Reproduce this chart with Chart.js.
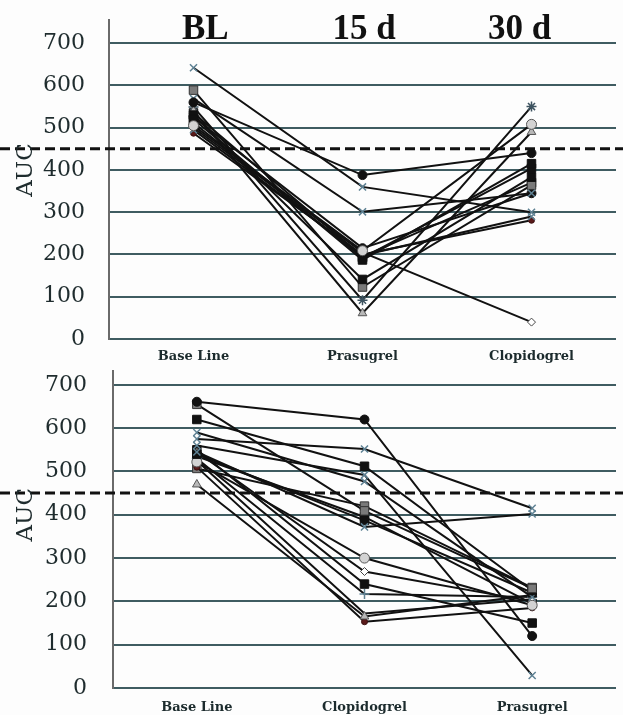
<!DOCTYPE html>
<html>
<head>
<meta charset="utf-8">
<script src="https://cdn.jsdelivr.net/npm/chart.js@4.4.1/dist/chart.umd.min.js"></script>
<style>
  html, body { margin: 0; padding: 0; background: #fdfdfd; }
  #top { position: absolute; left: 0; top: 0; width: 623px; height: 364px; }
  #bottom { position: absolute; left: 0; top: 364px; width: 623px; height: 351px; }
</style>
</head>
<body>
<div id="top"><canvas id="topChart"></canvas></div>
<div id="bottom"><canvas id="bottomChart"></canvas></div>
<script>
// AUC per patient. Each row = one patient across the 3 visits.
const TOP_CATEGORIES = ["Base Line", "Prasugrel", "Clopidogrel"];
const TOP_HEADERS = ["BL", "15 d", "30 d"];
const TOP_SERIES = [
  [642, 360, 300],
  [560, 388, 440],
  [569, 301, 345],
  [505, 209, 508],
  [520, 187, 415],
  [512, 192, 404],
  [530, 141, 383],
  [540, 61, 490],
  [589, 123, 364],
  [549, 92, 550],
  [500, 205, 40],
  [495, 198, 290],
  [487, 200, 281],
  [525, 215, 345],
  [535, 195, 370],
];

const BOTTOM_CATEGORIES = ["Base Line", "Clopidogrel", "Prasugrel"];
const BOTTOM_SERIES = [
  [661, 620, 120],
  [575, 552, 415],
  [655, 409, 230],
  [620, 512, 225],
  [560, 492, 29],
  [590, 477, 210],
  [545, 372, 402],
  [540, 387, 220],
  [522, 300, 191],
  [545, 269, 200],
  [550, 240, 150],
  [530, 217, 210],
  [470, 165, 215],
  [510, 153, 185],
  [525, 172, 205],
  [535, 395, 195],
  [507, 420, 232],
];

const Y_TICKS = [0, 100, 200, 300, 400, 500, 600, 700];
const THRESHOLD = 450;

// Marker look per series (Excel-style mixed markers).
const TOP_MARKERS = ["x", "dot", "x", "light", "sq", "sq", "sq", "tri", "sqGrey", "star", "dia", "x", "red", "dot", "sq"];
const BOTTOM_MARKERS = ["dot", "x", "sqGrey", "sq", "x", "x", "x", "sq", "light", "dia", "sq", "plus", "tri", "red", "none", "sq", "sqGrey"];

const MARKERS = {
  x: { style: "crossRot", r: 5, fill: "rgba(0,0,0,0)", stroke: "#5f8294", w: 1.5 },
  plus: { style: "cross", r: 5, fill: "rgba(0,0,0,0)", stroke: "#5f8294", w: 1.5 },
  star: { style: "star", r: 5, fill: "rgba(0,0,0,0)", stroke: "#3d5360", w: 1.5 },
  dot: { style: "circle", r: 4.5, fill: "#111", stroke: "#111", w: 1 },
  light: { style: "circle", r: 5, fill: "#d3d3d3", stroke: "#555", w: 1 },
  red: { style: "circle", r: 3, fill: "#5a1a1a", stroke: "#3a1010", w: 1 },
  sq: { style: "rect", r: 6, fill: "#111", stroke: "#111", w: 1 },
  sqGrey: { style: "rect", r: 6, fill: "#7a7a7a", stroke: "#333", w: 1 },
  tri: { style: "triangle", r: 5, fill: "#b8b8b8", stroke: "#555", w: 1 },
  dia: { style: "rectRot", r: 4, fill: "#fff", stroke: "#444", w: 1 },
  none: { style: "circle", r: 0, fill: "#111", stroke: "#111", w: 0 },
};

const SERIF = "'DejaVu Serif', serif";

function makeChart(canvas, cfg) {
  const datasets = cfg.series.map((vals, i) => {
    const m = MARKERS[cfg.markers[i]];
    return {
      data: vals.map((v, j) => ({ x: j, y: v })),
      borderColor: "#111",
      borderWidth: 2,
      pointStyle: m.style,
      pointRadius: m.r,
      pointBackgroundColor: m.fill,
      pointBorderColor: m.stroke,
      pointBorderWidth: m.w,
      tension: 0,
      clip: false,
    };
  });

  // Dashed cut-off line at 450, runs across the whole width (through the axis labels too).
  const refLine = {
    id: "refLine",
    afterDatasetsDraw(chart) {
      const { ctx } = chart;
      const y = chart.scales.y.getPixelForValue(THRESHOLD);
      ctx.save();
      ctx.strokeStyle = "#111";
      ctx.lineWidth = 3;
      ctx.setLineDash([10, 5]);
      ctx.beginPath();
      ctx.moveTo(0, y);
      ctx.lineTo(chart.width, y);
      ctx.stroke();
      ctx.restore();
    },
  };

  // "AUC" axis title, centred near the 400 gridline like the original.
  const yLabel = {
    id: "yLabel",
    afterDraw(chart) {
      const { ctx } = chart;
      ctx.save();
      ctx.translate(26, chart.scales.y.getPixelForValue(400));
      ctx.rotate(-Math.PI / 2);
      ctx.font = `23px ${SERIF}`;
      ctx.fillStyle = "#1f2c2e";
      ctx.textAlign = "center";
      ctx.textBaseline = "middle";
      ctx.fillText("AUC", 0, 0);
      ctx.restore();
    },
  };

  // Big visit headers (BL / 15 d / 30 d) above the top panel; they sit a bit
  // closer together than the categories in the original.
  const headerShift = [0.07, 0.01, -0.07];
  const headers = {
    id: "headers",
    afterDraw(chart) {
      if (!cfg.headers) return;
      const { ctx } = chart;
      ctx.save();
      ctx.font = "bold 35px 'Liberation Serif', serif";
      ctx.fillStyle = "#111";
      ctx.textAlign = "center";
      ctx.textBaseline = "alphabetic";
      cfg.headers.forEach((h, i) =>
        ctx.fillText(h, chart.scales.x.getPixelForValue(i + headerShift[i]), 39)
      );
      ctx.restore();
    },
  };

  return new Chart(canvas, {
    type: "line",
    data: { datasets },
    options: {
      responsive: true,
      maintainAspectRatio: false,
      animation: false,
      layout: { padding: { top: cfg.padTop, left: 0, right: 0, bottom: 0 } },
      plugins: { legend: { display: false }, tooltip: { enabled: false } },
      scales: {
        x: {
          type: "linear",
          min: -0.5,
          max: 2.5,
          afterBuildTicks: (s) => {
            s.ticks = cfg.categories.map((_, i) => ({ value: i }));
          },
          afterFit: (s) => {
            s.height = cfg.xAxisH;
            s.paddingLeft = 0;
            s.paddingRight = 0;
          },
          ticks: {
            callback: (v) => cfg.categories[v],
            autoSkip: false,
            maxRotation: 0,
            padding: cfg.xPad,
            color: "#1c2b2d",
            font: { family: SERIF, size: 13, weight: "bold" },
          },
          grid: { display: false },
          border: { display: false },
        },
        y: {
          min: 0,
          max: cfg.yMax,
          afterBuildTicks: (s) => {
            s.ticks = Y_TICKS.map((v) => ({ value: v }));
          },
          afterFit: (s) => {
            s.width = cfg.yAxisW;
            s.paddingTop = 0;
            s.paddingBottom = 0;
          },
          ticks: {
            padding: cfg.yPad,
            color: "#1f2c2e",
            font: { family: SERIF, size: 22 },
          },
          grid: { color: "#3f5c61", lineWidth: 2, drawTicks: false },
          border: { color: "#6a6a6a", width: 2 },
        },
      },
    },
    plugins: [refLine, yLabel, headers],
  });
}

makeChart(document.getElementById("topChart"), {
  categories: TOP_CATEGORIES,
  headers: TOP_HEADERS,
  series: TOP_SERIES,
  markers: TOP_MARKERS,
  padTop: 20,
  yMax: 755,
  yAxisW: 109,
  xAxisH: 25,
  xPad: 2,
  yPad: 24,
});

makeChart(document.getElementById("bottomChart"), {
  categories: BOTTOM_CATEGORIES,
  headers: null,
  series: BOTTOM_SERIES,
  markers: BOTTOM_MARKERS,
  padTop: 0,
  yMax: 732,
  yAxisW: 113,
  xAxisH: 27,
  xPad: 4,
  yPad: 26,
});
</script>
</body>
</html>
